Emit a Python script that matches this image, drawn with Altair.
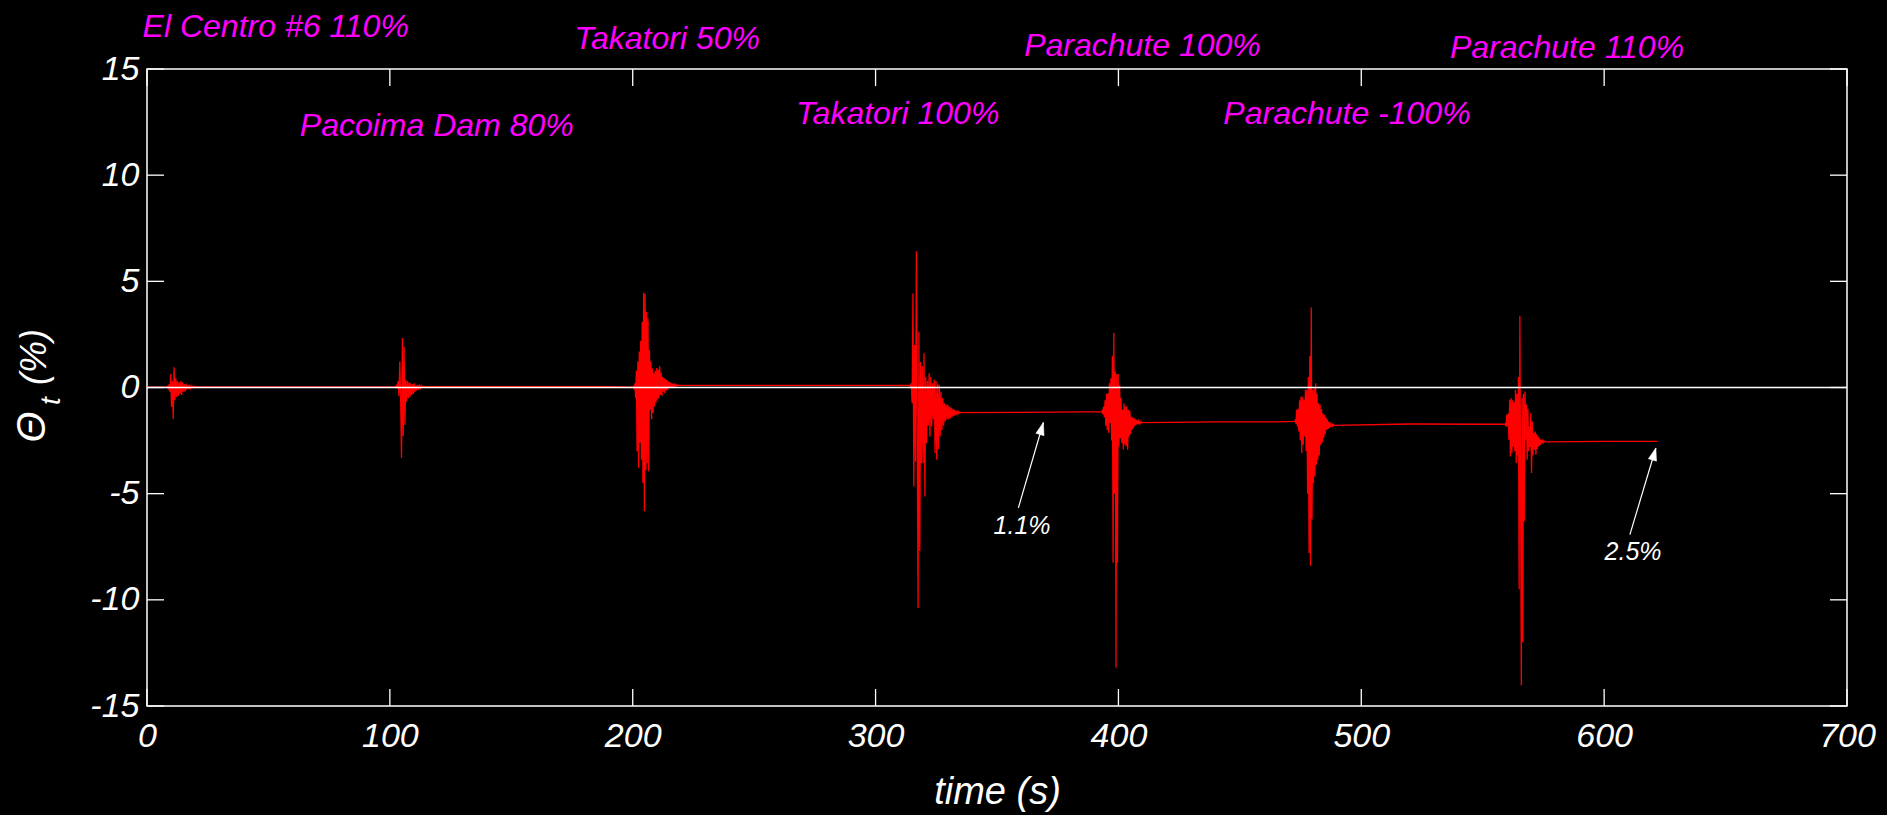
import altair as alt
import pandas as pd

# ---------------------------------------------------------------
# Top-floor rotation record, one block per shake-table run.
# Each block: start time (s), sample step (s), rotation (%).
# ---------------------------------------------------------------
EL_CENTRO_START, EL_CENTRO_STEP = 8.0, 0.35
EL_CENTRO = [0.03, 0.05, -0.05, 0.15, -0.2, 0.64, -0.9, 0.3, -1.48, 0.95,
             -0.6, 0.45, -0.45, 0.3, -0.4, 0.25, -0.3, 0.3, -0.35, 0.25,
             -0.2, 0.15, -0.2, 0.18, -0.1, 0.1, -0.08, 0.12, -0.05, 0.08,
             -0.02, 0.06, 0.0, 0.05, 0.02, 0.04, 0.03]

PACOIMA_START, PACOIMA_STEP = 102.0, 0.35
PACOIMA = [0.03, 0.05, 0.1, -0.05, 0.3, -0.4, 1.22, -0.6, -3.31, 2.33,
           -2.3, 1.92, -1.76, 0.36, -0.66, 0.3, -0.5, 0.25, -0.45, 0.2,
           -0.35, 0.15, -0.3, 0.2, -0.2, 0.1, -0.15, 0.12, -0.1, 0.08,
           -0.05, 0.08, 0.0, 0.06, 0.02, 0.05, 0.04]

TAKATORI50_START, TAKATORI50_STEP = 200.0, 0.3
TAKATORI50 = [0.02, 0.05, -0.1, 0.2, -0.5, 0.8, -3.0, 1.22, -3.78, 1.69,
              -2.6, 2.2, -3.4, 3.1, -4.5, 4.46, -5.83, 4.4, -3.9, 3.57,
              -3.55, 3.25, -3.95, 1.77, -1.05, 1.22, -1.5, 0.9, -1.2, 0.68,
              -0.9, 0.8, -0.7, 0.92, -0.58, 0.85, -0.5, 1.0, -0.35, 0.7,
              -0.4, 0.51, -0.2, 0.45, -0.27, 0.4, -0.15, 0.35, -0.1, 0.28,
              -0.02, 0.25, 0.0, 0.2, 0.02, 0.18, 0.05, 0.15, 0.06, 0.14,
              0.08, 0.12, 0.09, 0.1]

TAKATORI100_START, TAKATORI100_STEP = 314.0, 0.35
TAKATORI100 = [0.1, 0.05, 0.2, -0.74, 4.43, -4.66, 2.0, -3.5, 6.42, -2.0,
               -10.38, 2.63, -7.7, 1.2, -3.56, 1.0, -3.56, 1.61, -5.13, 0.5,
               -2.62, 0.3, -1.8, 0.67, -2.31, 0.5, -1.84, 0.2, -1.5, 0.36,
               -3.09, 0.3, -3.4, 0.2, -2.9, 0.12, -2.3, -0.2, -2.0, -0.5,
               -1.8, -0.74, -1.6, -0.82, -1.52, -0.8, -1.5, -0.9, -1.45, -0.95,
               -1.4, -1.0, -1.35, -1.05, -1.3, -1.1, -1.25, -1.12, -1.22, -1.15,
               -1.18]

PARACHUTE100_START, PARACHUTE100_STEP = 393.0, 0.3
PARACHUTE100 = [-1.15, -1.1, -1.25, -0.9, -1.4, -0.6, -1.8, -0.3, -2.0, -0.27,
                -2.14, 0.2, -1.68, 0.44, -2.5, 1.5, -8.25, 2.58, -5.0, 0.75,
                -13.2, 0.64, -8.25, 0.64, -2.78, 0.12, -2.4, -0.5, -2.62, -1.05,
                -2.93, -0.74, -2.7, -0.9, -2.78, -0.9, -2.93, -1.05, -2.31, -1.1,
                -2.2, -1.37, -1.99, -1.4, -1.9, -1.45, -1.8, -1.5, -1.75, -1.55,
                -1.72, -1.58, -1.7, -1.6, -1.68, -1.62, -1.65]

PARACHUTE_NEG_START, PARACHUTE_NEG_STEP = 472.5, 0.3
PARACHUTE_NEG = [-1.6, -1.55, -1.7, -1.05, -1.84, -1.0, -2.07, -0.6, -2.5, -0.43,
                 -3.09, -0.45, -2.7, -0.58, -2.31, -0.11, -3.0, -0.11, -5.0, 0.5,
                 -7.79, 1.5, -8.39, 3.77, -6.22, -0.11, -4.5, 0.0, -4.19, 0.2,
                 -3.64, -0.3, -3.4, -0.74, -3.2, -0.8, -2.7, -1.0, -2.6, -1.21,
                 -2.38, -1.3, -2.2, -1.4, -2.0, -1.5, -1.95, -1.6, -1.9, -1.65,
                 -1.85, -1.7, -1.82, -1.72, -1.78]

PARACHUTE110_START, PARACHUTE110_STEP = 559.0, 0.3
PARACHUTE110 = [-1.73, -1.7, -1.84, -1.29, -1.84, -1.21, -2.46, -0.58, -3.25, -0.5,
                -3.09, -0.6, -2.78, -0.7, -3.0, -0.11, -3.56, -0.3, -3.2, 0.5,
                -9.5, 3.37, -5.0, -14.03, -0.5, -12.0, -0.3, -6.3, -0.19, -2.46,
                -0.8, -3.4, -1.0, -3.0, -1.84, -2.8, -1.21, -4.03, -1.6, -3.2,
                -2.15, -2.93, -2.07, -3.17, -2.2, -2.9, -2.31, -2.78, -2.4, -2.7,
                -2.45, -2.62, -2.5, -2.6, -2.52, -2.56]

# quiet stretches between runs: (time s, rotation %)
QUIET = [(0.0, 0.02), (40.0, 0.03), (95.0, 0.03), (150.0, 0.04), (190.0, 0.04),
         (260.0, 0.1), (300.0, 0.1), (360.0, -1.17), (385.0, -1.15),
         (440.0, -1.62), (465.0, -1.62), (520.0, -1.72), (550.0, -1.73),
         (600.0, -2.54), (622.0, -2.54)]

# run names and where they are written
RUN_LABELS = ["El Centro #6 110%", "Pacoima Dam 80%", "Takatori 50%",
              "Takatori 100%", "Parachute 100%", "Parachute -100%",
              "Parachute 110%"]
RUN_LABEL_T = [53.0, 119.3, 214.2, 309.1, 409.9, 494.1, 584.7]
RUN_LABEL_V = [17.0, 12.3, 16.4, 12.86, 16.06, 12.86, 15.97]

# residual drift call-outs
DRIFT_LABELS = ["1.1%", "2.5%"]
DRIFT_TEXT_T = [360.3, 611.9]
DRIFT_TEXT_V = [-6.5, -7.75]
DRIFT_TAIL_T = [358.8, 610.6]
DRIFT_TAIL_V = [-5.67, -6.93]
DRIFT_TIP_T = [369.1, 621.3]
DRIFT_TIP_V = [-1.65, -2.85]

X_TICKS = [0, 100, 200, 300, 400, 500, 600, 700]
Y_TICKS = [-15, -10, -5, 0, 5, 10, 15]

# ---------------------------------------------------------------
blocks = [
    (EL_CENTRO_START, EL_CENTRO_STEP, EL_CENTRO),
    (PACOIMA_START, PACOIMA_STEP, PACOIMA),
    (TAKATORI50_START, TAKATORI50_STEP, TAKATORI50),
    (TAKATORI100_START, TAKATORI100_STEP, TAKATORI100),
    (PARACHUTE100_START, PARACHUTE100_STEP, PARACHUTE100),
    (PARACHUTE_NEG_START, PARACHUTE_NEG_STEP, PARACHUTE_NEG),
    (PARACHUTE110_START, PARACHUTE110_STEP, PARACHUTE110),
]
rows = list(QUIET)
for start, step, vals in blocks:
    rows += [(start + i * step, v) for i, v in enumerate(vals)]
record = pd.DataFrame(rows, columns=["t", "rot"]).sort_values("t").reset_index(drop=True)

W, H = 1700, 637
XMIN, XMAX = 0, 700
YMIN, YMAX = -15, 15
TICK_X_LEN = 7.0     # inward tick length on the vertical sides, in seconds
TICK_Y_LEN = 0.8     # inward tick length on the horizontal sides, in %

FONT = "Liberation Sans"

xs = alt.Scale(domain=[XMIN, XMAX], nice=False, zero=False)
ys = alt.Scale(domain=[YMIN, YMAX], nice=False, zero=False)

# one shared axis definition per channel, reused by every layer so they merge
X_AXIS = alt.Axis(values=X_TICKS, title="time (s)", grid=False, domain=False,
                  ticks=False, tickSize=0, labelPadding=13, titlePadding=20,
                  labelFlush=False, labelExpr="datum.value + ''")
Y_AXIS = alt.Axis(values=Y_TICKS, title="", grid=False, domain=False,
                  ticks=False, tickSize=0, labelPadding=8,
                  labelFlush=False, labelExpr="datum.value + ''")


def X(field):
    return alt.X(field, scale=xs, axis=X_AXIS, title="time (s)")


def Y(field):
    return alt.Y(field, scale=ys, axis=Y_AXIS, title="")


trace = alt.Chart(record).mark_line(color="#ff0000", strokeWidth=1.3).encode(
    x=X("t:Q"), y=Y("rot:Q"))

zero_line = alt.Chart(pd.DataFrame({"v": [0.0]})).mark_rule(
    color="white", strokeWidth=1.5).encode(y=Y("v:Q"))

xt = pd.DataFrame({"x": X_TICKS, "lo": YMIN, "lo2": YMIN + TICK_Y_LEN,
                   "hi": YMAX, "hi2": YMAX - TICK_Y_LEN})
yt = pd.DataFrame({"y": Y_TICKS, "lo": XMIN, "lo2": XMIN + TICK_X_LEN,
                   "hi": XMAX, "hi2": XMAX - TICK_X_LEN})
tick_style = dict(color="white", strokeWidth=1.3)

ticks_bottom = alt.Chart(xt).mark_rule(**tick_style).encode(
    x=X("x:Q"), y=Y("lo:Q"), y2="lo2:Q")
ticks_top = alt.Chart(xt).mark_rule(**tick_style).encode(
    x=X("x:Q"), y=Y("hi:Q"), y2="hi2:Q")
ticks_left = alt.Chart(yt).mark_rule(**tick_style).encode(
    y=Y("y:Q"), x=X("lo:Q"), x2="lo2:Q")
ticks_right = alt.Chart(yt).mark_rule(**tick_style).encode(
    y=Y("y:Q"), x=X("hi:Q"), x2="hi2:Q")

runs = pd.DataFrame({"label": RUN_LABELS, "t": RUN_LABEL_T, "v": RUN_LABEL_V})
run_text = alt.Chart(runs).mark_text(
    color="#ff00ff", font=FONT, fontSize=32, fontStyle="italic",
    align="center", baseline="middle").encode(
    x=X("t:Q"), y=Y("v:Q"), text="label:N")

drift = pd.DataFrame({
    "label": DRIFT_LABELS, "tt": DRIFT_TEXT_T, "tv": DRIFT_TEXT_V,
    "t0": DRIFT_TAIL_T, "v0": DRIFT_TAIL_V, "t1": DRIFT_TIP_T, "v1": DRIFT_TIP_V})

drift_shaft = alt.Chart(drift).mark_rule(color="white", strokeWidth=1.2).encode(
    x=X("t0:Q"), y=Y("v0:Q"), x2="t1:Q", y2="v1:Q")
drift_head = alt.Chart(drift).mark_point(
    shape="M0,0 L-0.34,1 L0.34,1 Z", filled=True, fill="white", stroke="white",
    strokeWidth=0.5, opacity=1, size=620, angle=16).encode(
    x=X("t1:Q"), y=Y("v1:Q"))
drift_text = alt.Chart(drift).mark_text(
    color="white", font=FONT, fontSize=25, fontStyle="italic",
    align="center", baseline="middle").encode(
    x=X("tt:Q"), y=Y("tv:Q"), text="label:N")

# rotated y-axis title: Theta with subscript t, then (%)
one = pd.DataFrame({"a": [0]})
ytitle_theta = alt.Chart(one).mark_text(
    text="\u0398", font=FONT, fontSize=40, fontStyle="italic", color="white",
    angle=270, align="center", baseline="middle").encode(
    x=alt.value(-114), y=alt.value(358))
ytitle_sub = alt.Chart(one).mark_text(
    text="t", font=FONT, fontSize=28, fontStyle="italic", color="white",
    angle=270, align="center", baseline="middle").encode(
    x=alt.value(-95), y=alt.value(332))
ytitle_pct = alt.Chart(one).mark_text(
    text="(%)", font=FONT, fontSize=36, fontStyle="italic", color="white",
    angle=270, align="center", baseline="middle").encode(
    x=alt.value(-112), y=alt.value(288))

chart = alt.layer(
    trace, zero_line, ticks_bottom, ticks_top, ticks_left, ticks_right,
    run_text, drift_shaft, drift_head, drift_text,
    ytitle_theta, ytitle_sub, ytitle_pct,
).properties(
    width=W, height=H,
    autosize=alt.AutoSizeParams(type="none"),
    padding={"left": 147, "top": 69, "right": 40, "bottom": 109},
    background="black",
).configure_view(
    stroke="white", strokeWidth=1.5, fill="black",
).configure_axis(
    labelColor="white", labelFont=FONT, labelFontSize=34,
    labelFontStyle="italic", titleColor="white", titleFont=FONT,
    titleFontSize=38, titleFontStyle="italic", titleFontWeight="normal",
)

chart.save("out.html", embed_options={"renderer": "svg", "actions": False})
